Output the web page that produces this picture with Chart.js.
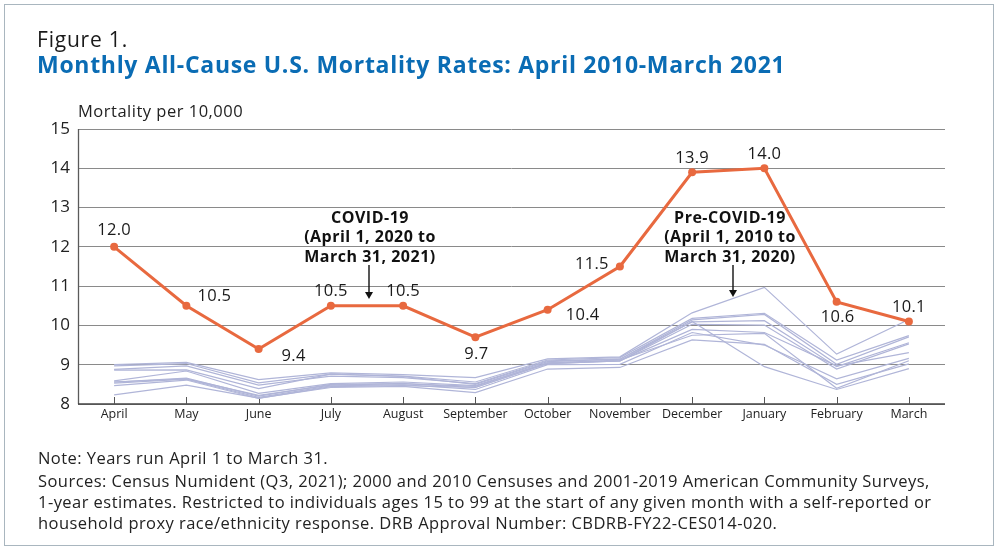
<!DOCTYPE html>
<html><head><meta charset="utf-8">
<script src="https://cdn.jsdelivr.net/npm/chart.js@4"></script>
<style>
html,body{margin:0;padding:0;background:#fff;}
#wrap{position:relative;width:1000px;height:560px;overflow:hidden;font-family:"Open Sans",sans-serif;}
#frame{position:absolute;left:4px;top:4px;width:990px;height:542px;border:1.5px solid #a9b6bf;box-sizing:border-box;}
canvas{position:absolute;left:0;top:0;}
.t{position:absolute;white-space:nowrap;color:#1a1a1a;line-height:1.362;}
#fig{left:37px;top:25px;font-size:21px;letter-spacing:0.8px;}
#title{left:37px;top:49px;font-size:23px;font-weight:700;color:#0a6cb4;letter-spacing:0.7px;}
.n{left:38px;font-size:16.5px;color:#222;letter-spacing:0.45px;}
</style></head>
<body><div id="wrap">
<div id="frame"></div>
<canvas id="c" width="1000" height="560"></canvas>
<div class="t" id="fig">Figure 1.</div>
<div class="t" id="title">Monthly All-Cause U.S. Mortality Rates: April 2010-March 2021</div>
<div class="t n" style="top:447px">Note: Years run April 1 to March 31.</div>
<div class="t n" style="top:470px">Sources: Census Numident (Q3, 2021); 2000 and 2010 Censuses and 2001-2019 American Community Surveys,</div>
<div class="t n" style="top:491px">1-year estimates. Restricted to individuals ages 15 to 99 at the start of any given month with a self-reported or</div>
<div class="t n" style="top:512px">household proxy race/ethnicity response. DRB Approval Number: CBDRB-FY22-CES014-020.</div>
</div>
<script>
const months = ["April","May","June","July","August","September","October","November","December","January","February","March"];
const covid = [12.0,10.5,9.4,10.5,10.5,9.7,10.4,11.5,13.9,14.0,10.6,10.1];
const covidLabels = ["12.0","10.5","9.4","10.5","10.5","9.7","10.4","11.5","13.9","14.0","10.6","10.1"];
const pre2010 = [9.00,9.06,8.62,8.79,8.75,8.67,9.15,9.20,10.32,10.97,9.27,10.15];
const pre2011 = [8.97,9.03,8.54,8.76,8.71,8.56,9.12,9.18,10.18,10.31,9.12,9.74];
const pre2012 = [8.88,8.97,8.48,8.71,8.67,8.52,9.10,9.14,10.14,10.28,9.01,9.71];
const pre2013 = [8.86,8.87,8.39,8.76,8.70,8.50,9.08,9.14,10.09,10.12,8.95,9.56];
const pre2014 = [8.59,8.84,8.27,8.52,8.56,8.47,9.05,9.10,10.03,10.01,8.89,9.53];
const pre2015 = [8.56,8.66,8.20,8.50,8.52,8.42,9.03,9.10,9.90,9.82,8.97,9.31];
const pre2016 = [8.53,8.63,8.17,8.46,8.49,8.37,9.00,9.01,9.82,9.50,8.64,9.16];
const pre2017 = [8.47,8.61,8.14,8.44,8.47,8.42,9.03,9.10,10.10,8.95,8.37,8.90];
const pre2018 = [8.23,8.48,8.15,8.42,8.45,8.29,8.89,8.93,9.63,9.52,8.50,9.02];
const pre2019 = [8.56,8.64,8.22,8.48,8.52,8.45,9.05,9.12,9.75,9.80,8.40,9.10];
const yTicks = [8,9,10,11,12,13,14,15];

const preSeries = [pre2010,pre2011,pre2012,pre2013,pre2014,pre2015,pre2016,pre2017,pre2018,pre2019];
const GRAY = "#b0b5d8", ORANGE = "#e8693f";
const datasets = preSeries.map((d,i)=>({label:"Pre "+(2010+i),data:d,borderColor:GRAY,borderWidth:1.2,pointRadius:0,tension:0,order:2}));
datasets.push({label:"COVID",data:covid,borderColor:ORANGE,backgroundColor:ORANGE,borderWidth:3,pointRadius:4,pointHoverRadius:4,pointBorderWidth:0,tension:0,order:1});

const labelOffsets = [[0,-17],[28,-9],[35,7],[0,-14],[0,-14],[1,17],[35,6],[-28,-2],[0,-14],[0,-14],[1,15],[0,-14]];

function arrow(ctx,x,y0,y1){
  ctx.strokeStyle="#111"; ctx.fillStyle="#111"; ctx.lineWidth=1.4;
  ctx.beginPath(); ctx.moveTo(x,y0); ctx.lineTo(x,y1-5); ctx.stroke();
  ctx.beginPath(); ctx.moveTo(x-4,y1-7); ctx.lineTo(x,y1); ctx.lineTo(x+4,y1-7); ctx.closePath(); ctx.fill();
}

const decor = {
  id:"decor",
  beforeDatasetsDraw(chart){
    const {ctx, chartArea:a, scales:{x,y}} = chart;
    ctx.save();
    ctx.strokeStyle="#5a5a5a"; ctx.lineWidth=1.3;
    ctx.beginPath(); ctx.moveTo(a.left+0.5,a.top); ctx.lineTo(a.left+0.5,a.bottom); ctx.stroke();
    ctx.strokeStyle="#444"; ctx.lineWidth=1.5;
    ctx.beginPath(); ctx.moveTo(a.left,a.bottom); ctx.lineTo(a.right,a.bottom); ctx.stroke();
    ctx.strokeStyle="#555"; ctx.lineWidth=1;
    months.forEach((m,i)=>{const px=Math.round(x.getPixelForValue(i))+0.5; ctx.beginPath(); ctx.moveTo(px,a.bottom); ctx.lineTo(px,a.bottom-7); ctx.stroke();});
    ctx.fillStyle="#222"; ctx.font="16.5px 'Open Sans'"; ctx.letterSpacing="0.5px"; ctx.textAlign="left"; ctx.textBaseline="alphabetic";
    ctx.fillText("Mortality per 10,000", a.left, a.top-12);
    ctx.restore();
  },
  afterDatasetsDraw(chart){
    const {ctx, scales:{x,y}} = chart;
    ctx.save();
    ctx.fillStyle="#1a1a1a"; ctx.font="16.5px 'Open Sans'"; ctx.letterSpacing="0.3px"; ctx.textAlign="center"; ctx.textBaseline="middle";
    covid.forEach((v,i)=>{const o=labelOffsets[i]; ctx.fillText(covidLabels[i], x.getPixelForValue(i)+o[0], y.getPixelForValue(v)+o[1]);});
    ctx.font="bold 16px 'Open Sans'"; ctx.letterSpacing="0.5px"; ctx.fillStyle="#111";
    const notes=[{cx:370,lines:["COVID-19","(April 1, 2020 to","March 31, 2021)"],ax:369,ay0:265,ay1:299},
                 {cx:730,lines:["Pre-COVID-19","(April 1, 2010 to","March 31, 2020)"],ax:733,ay0:265,ay1:297}];
    notes.forEach(n=>{
      n.lines.forEach((t,k)=>ctx.fillText(t,n.cx,218+k*19.5));
      arrow(ctx,n.ax,n.ay0,n.ay1);
    });
    ctx.restore();
  }
};

new Chart(document.getElementById("c"),{
  type:"line",
  data:{labels:months,datasets},
  options:{
    responsive:false,animation:false,
    layout:{padding:{top:129,right:55,left:0,bottom:0}},
    plugins:{legend:{display:false},tooltip:{enabled:false}},
    scales:{
      x:{offset:true,grid:{display:false,drawTicks:false},border:{display:false},
         ticks:{color:"#222",font:{family:"Open Sans",size:12.5},padding:3,maxRotation:0,autoSkip:false},
         afterFit(s){s.height=156;}},
      y:{min:8,max:15,afterBuildTicks(s){s.ticks=yTicks.map(v=>({value:v}));},
         grid:{color:"#8a8a8a",lineWidth:1,drawTicks:false},border:{display:false},
         ticks:{color:"#222",font:{family:"Open Sans",size:17},padding:8},
         afterFit(s){s.width=78;}}
    }
  },
  plugins:[decor]
});
</script>
</body></html>
